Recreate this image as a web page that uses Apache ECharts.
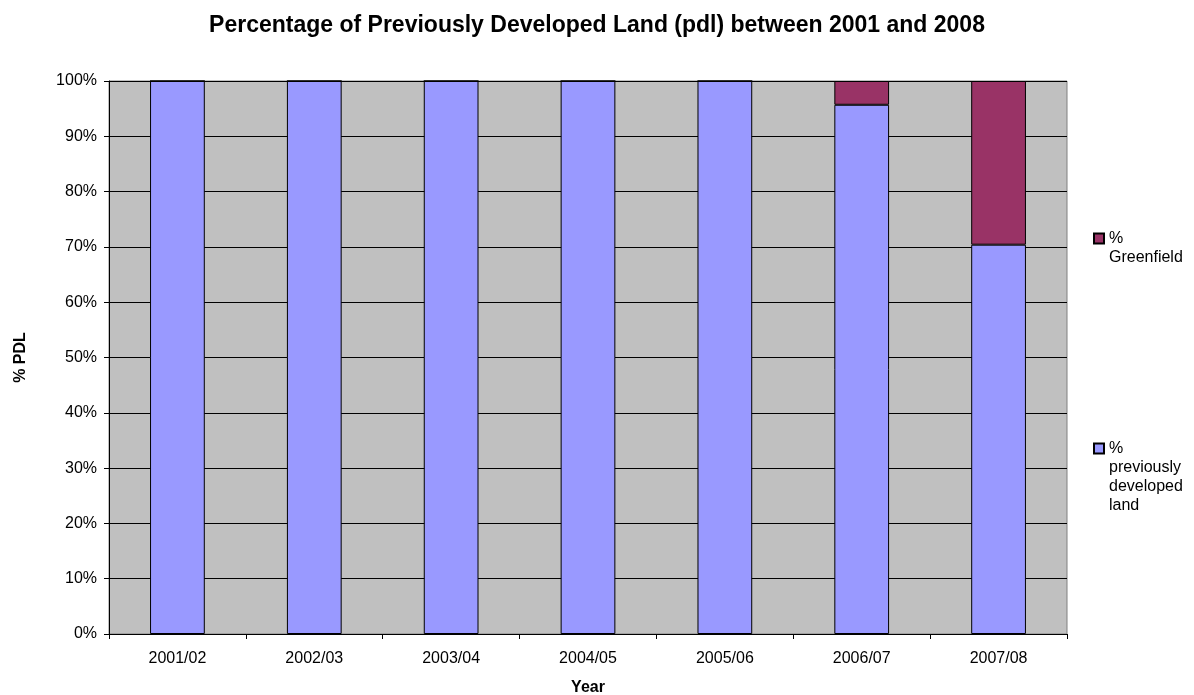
<!DOCTYPE html>
<html><head><meta charset="utf-8">
<script src="https://cdn.jsdelivr.net/npm/echarts@6/dist/echarts.min.js"></script>
<style>html,body{margin:0;padding:0;background:#fff}#c{width:1194px;height:695px}</style>
</head><body><div id="c"></div>
<script>
const categories = ['2001/02','2002/03','2003/04','2004/05','2005/06','2006/07','2007/08'];
const pdlValues = [100, 100, 100, 100, 100, 95.7, 70.4];
const greenfieldValues = [0, 0, 0, 0, 0, 4.3, 29.6];
const yTicks = [0,10,20,30,40,50,60,70,80,90,100];
const greenName = '%\nGreenfield';
const pdlName = '%\npreviously\ndeveloped\nland';

const chart = echarts.init(document.getElementById('c'), null, {renderer:'canvas'});
const font = 'Arial, "Liberation Sans", sans-serif';
const lh = 19;
function legendFor(name, top) {
  const n = name.split('\n').length;
  const h = 10 + (n - 1) * lh;
  return {data: [{name: name, icon: 'path://M0,0H10V10H0Z M0,' + h}], orient: 'vertical', left: 1088, top: top,
    itemWidth: 10, itemHeight: h, itemGap: 0,
    textStyle: {fontFamily: font, fontSize: 16, color: '#000', lineHeight: lh}};
}
chart.setOption({
  animation: false,
  backgroundColor: '#fff',
  title: {text: 'Percentage of Previously Developed Land (pdl) between 2001 and 2008', left: 'center', top: 9,
    textStyle: {fontFamily: font, fontSize: 23, fontWeight: 'bold', color: '#000'}},
  grid: {left: 109, top: 81, width: 958, height: 553, containLabel: false, outerBoundsMode: 'none',
    show: true, backgroundColor: '#C0C0C0', borderColor: '#808080', borderWidth: 1},
  legend: [legendFor(greenName, 224), legendFor(pdlName, 434)],
  xAxis: {type: 'category', data: categories, name: 'Year', nameLocation: 'middle', nameGap: 46,
    nameTextStyle: {fontFamily: font, fontSize: 16, fontWeight: 'bold', color: '#000'},
    axisLine: {lineStyle: {color: '#000'}}, axisTick: {show: true, alignWithLabel: false, length: 5, lineStyle: {color: '#000'}},
    axisLabel: {fontFamily: font, fontSize: 16, color: '#000', margin: 17}},
  yAxis: {type: 'value', min: 0, max: 100, interval: 10, name: '% PDL', nameLocation: 'middle', nameGap: 80,
    nameTextStyle: {fontFamily: font, fontSize: 16, fontWeight: 'bold', color: '#000'},
    axisLine: {show: true, lineStyle: {color: '#000'}}, axisTick: {show: true, length: 5, lineStyle: {color: '#000'}},
    splitLine: {lineStyle: {color: '#000', width: 1}},
    axisLabel: {fontFamily: font, fontSize: 16, color: '#000', margin: 12, formatter: v => yTicks.includes(v) ? v + '%' : ''}},
  series: [
    {name: pdlName, type: 'bar', stack: 's', data: pdlValues, barWidth: '40%',
     itemStyle: {color: '#9999FF', borderColor: '#000', borderWidth: 1}},
    {name: greenName, type: 'bar', stack: 's', data: greenfieldValues, barWidth: '40%',
     itemStyle: {color: '#993366', borderColor: '#000', borderWidth: 1}}
  ]
});
</script></body></html>
